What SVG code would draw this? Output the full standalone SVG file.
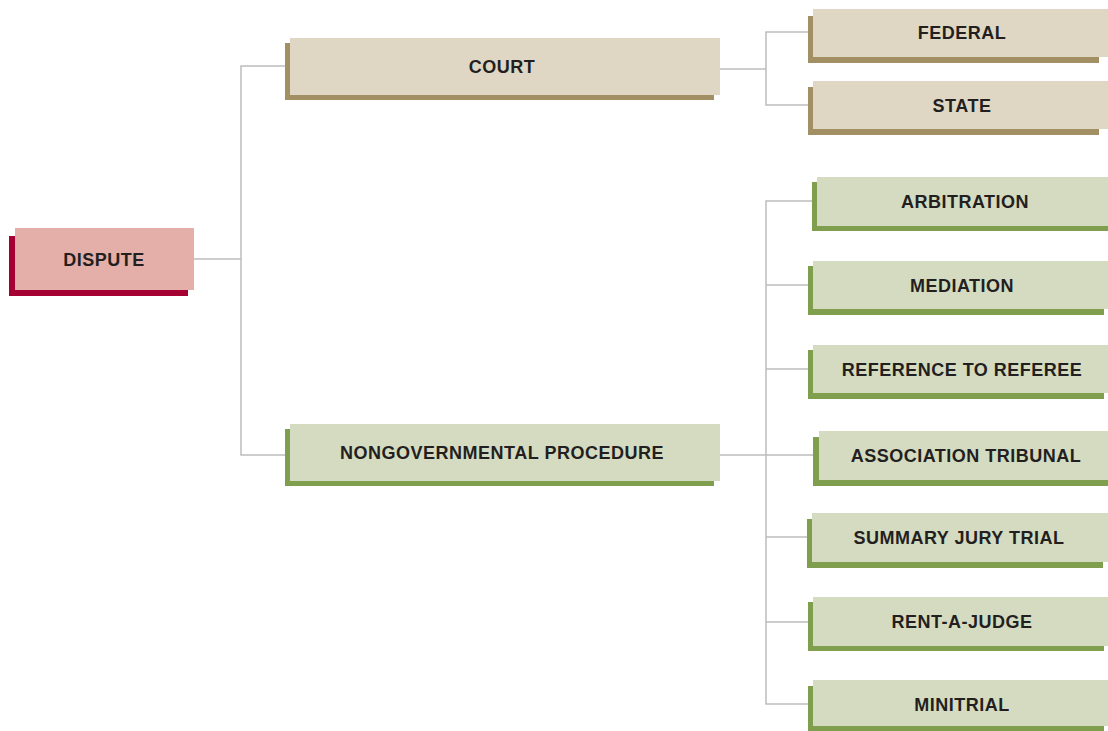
<svg xmlns="http://www.w3.org/2000/svg" width="1108" height="731" viewBox="0 0 1108 731">
<style>
.lbl{font-family:"Liberation Sans","DejaVu Sans",sans-serif;font-weight:bold;font-size:18px;letter-spacing:0.5px;fill:#231F20;text-anchor:middle}
.tan{fill:#DFD7C4}.tanS{fill:#A28F63}
.grn{fill:#D4DBC0}.grnS{fill:#7F9E4E}
.pnk{fill:#E3AFA8}.pnkS{fill:#A50034}
.con{fill:none;stroke:#BDBDBD;stroke-width:1.5}
</style>
<rect width="1108" height="731" fill="#FFFFFF"/>
<g id="connectors">
<polyline class="con" points="194,259 241,259"/>
<polyline class="con" points="285,66 241,66 241,455 285,455"/>
<polyline class="con" points="720,69 766,69"/>
<polyline class="con" points="808,32 766,32 766,105 808,105"/>
<polyline class="con" points="720,455 813,455"/>
<polyline class="con" points="812,201 766,201 766,704 808,704"/>
<line class="con" x1="766" y1="285" x2="808" y2="285"/>
<line class="con" x1="766" y1="369" x2="808" y2="369"/>
<line class="con" x1="766" y1="537" x2="807" y2="537"/>
<line class="con" x1="766" y1="622" x2="808" y2="622"/>
</g>
<g id="dispute">
<rect class="pnkS" x="9" y="236" width="179" height="60"/>
<rect class="pnk" x="15" y="228" width="179" height="62"/>
<text class="lbl" x="104" y="265.5">DISPUTE</text>
</g>
<g id="court">
<rect class="tanS" x="285" y="43" width="429" height="57"/>
<rect class="tan" x="290" y="38" width="430" height="57"/>
<text class="lbl" x="502" y="72.5">COURT</text>
</g>
<g id="federal">
<rect class="tanS" x="808" y="16" width="291" height="47"/>
<rect class="tan" x="813" y="9" width="295" height="48"/>
<text class="lbl" x="962" y="38.5">FEDERAL</text>
</g>
<g id="state">
<rect class="tanS" x="808" y="87" width="291" height="48"/>
<rect class="tan" x="813" y="81" width="295" height="48"/>
<text class="lbl" x="962" y="111.5">STATE</text>
</g>
<g id="nongovernmental">
<rect class="grnS" x="285" y="429" width="429" height="57"/>
<rect class="grn" x="290" y="424" width="430" height="57"/>
<text class="lbl" x="502" y="458.5">NONGOVERNMENTAL PROCEDURE</text>
</g>
<g id="arbitration">
<rect class="grnS" x="812" y="182" width="296" height="49"/>
<rect class="grn" x="817" y="177" width="291" height="49"/>
<text class="lbl" x="965" y="207.5">ARBITRATION</text>
</g>
<g id="mediation">
<rect class="grnS" x="808" y="266" width="296" height="49"/>
<rect class="grn" x="813" y="261" width="295" height="48"/>
<text class="lbl" x="962" y="291.5">MEDIATION</text>
</g>
<g id="reference">
<rect class="grnS" x="808" y="350" width="296" height="49"/>
<rect class="grn" x="813" y="345" width="295" height="48"/>
<text class="lbl" x="962" y="375.5">REFERENCE TO REFEREE</text>
</g>
<g id="association">
<rect class="grnS" x="813" y="437" width="295" height="49"/>
<rect class="grn" x="819" y="431" width="289" height="49"/>
<text class="lbl" x="966" y="461.5">ASSOCIATION TRIBUNAL</text>
</g>
<g id="summary">
<rect class="grnS" x="807" y="519" width="296" height="49"/>
<rect class="grn" x="812" y="513" width="296" height="49"/>
<text class="lbl" x="959" y="543.5">SUMMARY JURY TRIAL</text>
</g>
<g id="rentajudge">
<rect class="grnS" x="808" y="602" width="296" height="49"/>
<rect class="grn" x="813" y="597" width="295" height="49"/>
<text class="lbl" x="962" y="627.5">RENT-A-JUDGE</text>
</g>
<g id="minitrial">
<rect class="grnS" x="808" y="686" width="296" height="45"/>
<rect class="grn" x="813" y="680" width="295" height="46"/>
<text class="lbl" x="962" y="710.5">MINITRIAL</text>
</g>
</svg>
